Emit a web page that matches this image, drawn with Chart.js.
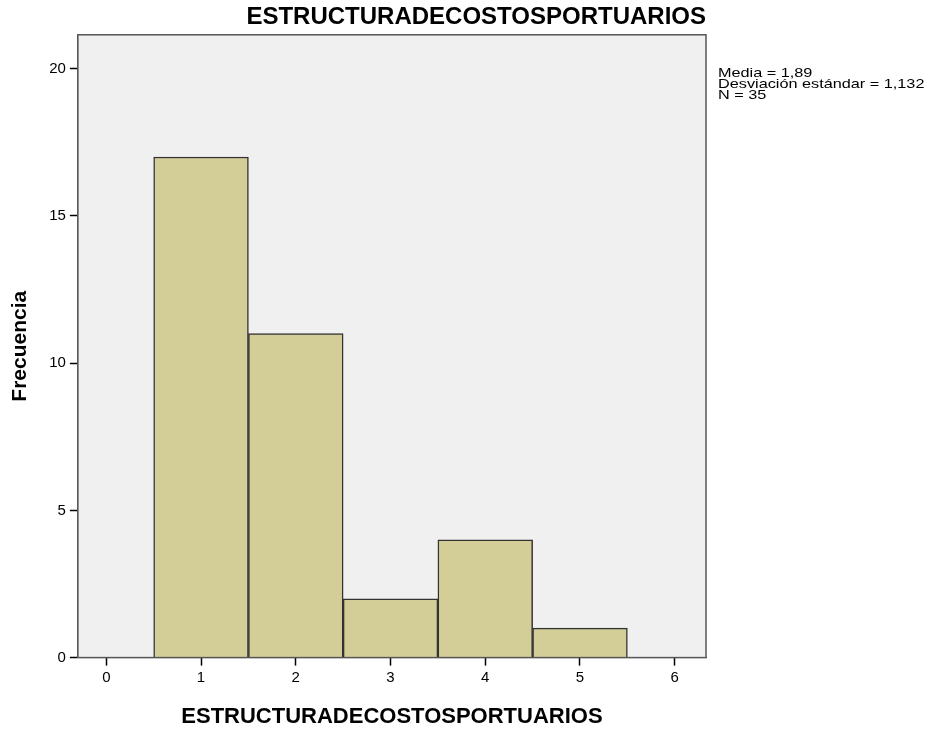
<!doctype html>
<html>
<head>
<title>ESTRUCTURADECOSTOSPORTUARIOS</title>
<script src="https://cdn.jsdelivr.net/npm/chart.js@4/dist/chart.umd.min.js"></script>
<style>
  body { margin: 0; background: #fff; }
  #container { width: 935px; height: 730px; }
</style>
</head>
<body>
<div id="container"><canvas id="canvas"></canvas></div>
<script>
var categories = [1, 2, 3, 4, 5];
var frequencies = [17, 11, 2, 4, 1];
var xTicks = [0, 1, 2, 3, 4, 5, 6];
var yTicks = [0, 5, 10, 15, 20];
var statsLines = ['Media = 1,89', 'Desviación estándar = 1,132', 'N = 35'];

var FONT = "'Liberation Sans', Arial, sans-serif";

// fondo gris y marco del área de trazado
var boxPlugin = {
  id: 'box',
  beforeDatasetsDraw: function(chart) {
    var a = chart.chartArea, ctx = chart.ctx;
    ctx.save();
    ctx.fillStyle = '#f0f0f0';
    ctx.fillRect(a.left, a.top, a.right - a.left, a.bottom - a.top);
    ctx.restore();
  },
  afterDraw: function(chart) {
    var a = chart.chartArea, ctx = chart.ctx;
    ctx.save();
    ctx.strokeStyle = '#555';
    ctx.lineWidth = 1.5;
    ctx.strokeRect(a.left, a.top, a.right - a.left, a.bottom - a.top);
    // texto de estadísticos (algo ensanchado, como en el original)
    ctx.fillStyle = '#000';
    ctx.font = '13px ' + FONT;
    ctx.textBaseline = 'top';
    ctx.translate(a.right + 12, a.top + 32);
    ctx.scale(1.25, 1);
    for (var i = 0; i < statsLines.length; i++) {
      ctx.fillText(statsLines[i], 0, i * 11);
    }
    ctx.restore();
  }
};

var points = categories.map(function(c, i) { return { x: c, y: frequencies[i] }; });

new Chart(document.getElementById('canvas'), {
  type: 'bar',
  data: {
    datasets: [{
      data: points,
      backgroundColor: '#d3ce97',
      borderColor: '#333',
      borderWidth: 1.5,
      barPercentage: 1,
      categoryPercentage: 1
    }]
  },
  plugins: [boxPlugin],
  options: {
    responsive: true,
    maintainAspectRatio: false,
    animation: false,
    layout: { padding: { left: 4, right: 229, top: 0, bottom: 0 } },
    plugins: {
      legend: { display: false },
      tooltip: { enabled: false },
      title: {
        display: true,
        align: 'end',
        text: 'ESTRUCTURADECOSTOSPORTUARIOS',
        color: '#000',
        font: { family: FONT, size: 24, weight: 'bold' },
        padding: { top: 3, bottom: 3 }
      }
    },
    scales: {
      x: {
        type: 'linear',
        min: -0.3,
        max: 6.33,
        offset: false,
        afterBuildTicks: function(scale) {
          scale.ticks = xTicks.map(function(v) { return { value: v }; });
        },
        grid: { display: true, offset: false, drawOnChartArea: false, drawTicks: true, tickLength: 8, color: '#000', tickWidth: 1.5 },
        border: { display: true, color: '#555' },
        ticks: { color: '#000', font: { family: FONT, size: 15 }, padding: 3, maxRotation: 0 },
        title: {
          display: true,
          text: 'ESTRUCTURADECOSTOSPORTUARIOS',
          color: '#000',
          font: { family: FONT, size: 22, weight: 'bold' },
          padding: { top: 14, bottom: 0 }
        }
      },
      y: {
        min: 0,
        max: 21.15,
        afterBuildTicks: function(scale) {
          scale.ticks = yTicks.map(function(v) { return { value: v }; });
        },
        grid: { display: true, drawOnChartArea: false, drawTicks: true, tickLength: 8, color: '#000', tickWidth: 1.5 },
        border: { display: true, color: '#555' },
        ticks: { color: '#000', font: { family: FONT, size: 15 }, padding: 4 },
        title: {
          display: true,
          text: 'Frecuencia',
          color: '#000',
          font: { family: FONT, size: 21, weight: 'bold' },
          padding: { top: 4, bottom: 12 }
        }
      }
    }
  }
});
</script>
</body>
</html>
